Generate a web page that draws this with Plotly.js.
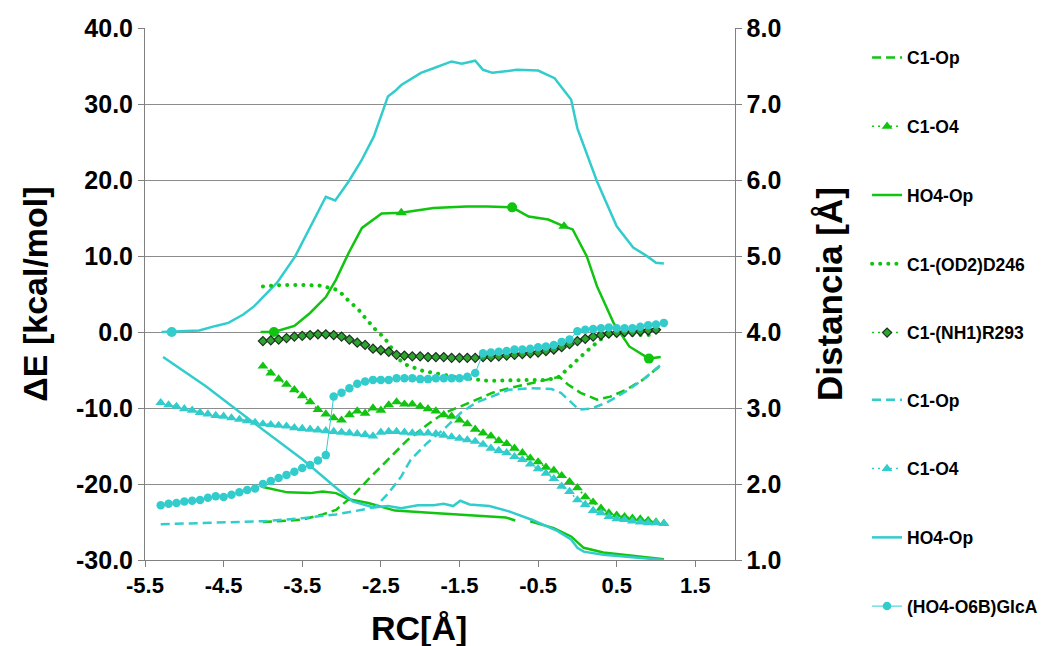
<!DOCTYPE html>
<html><head><meta charset="utf-8">
<script src="https://cdn.plot.ly/plotly-3.0.1.min.js"></script>
<style>body{margin:0;background:#fff}#chart{width:1043px;height:646px}</style>
</head><body><div id="chart"></div>
<script>
// ---------- data ----------
const xTicks = [-5.5,-4.5,-3.5,-2.5,-1.5,-0.5,0.5,1.5];
const xTickText = ['-5.5','-4.5','-3.5','-2.5','-1.5','-0.5','0.5','1.5'];
const yTicks = [-30,-20,-10,0,10,20,30,40];
const yTickText = ['-30.0','-20.0','-10.0','0.0','10.0','20.0','30.0','40.0'];
const y2Ticks = [1,2,3,4,5,6,7,8];
const y2TickText = ['1.0','2.0','3.0','4.0','5.0','6.0','7.0','8.0'];

// RC grids of the sampled series
const rcCyan = [-5.3,-5.2,-5.1,-5.0,-4.9,-4.8,-4.7,-4.6,-4.5,-4.4,-4.3,-4.2,-4.1,-4.0,-3.9,-3.8,-3.7,-3.6,-3.5,-3.4,-3.3,-3.2,-3.1,-3.0,-2.9,-2.8,-2.7,-2.6,-2.5,-2.4,-2.3,-2.2,-2.1,-2.0,-1.9,-1.8,-1.7,-1.6,-1.5,-1.4,-1.3,-1.2,-1.1,-1.0,-0.9,-0.8,-0.7,-0.6,-0.5,-0.4,-0.3,-0.2,-0.1,0.0,0.1,0.2,0.3,0.4,0.5,0.6,0.7,0.8,0.9,1.0,1.1];
const rcGreenO4 = [-4.0,-3.9,-3.8,-3.7,-3.6,-3.5,-3.4,-3.3,-3.2,-3.1,-3.0,-2.9,-2.8,-2.7,-2.6,-2.5,-2.4,-2.3,-2.2,-2.1,-2.0,-1.9,-1.8,-1.7,-1.6,-1.5,-1.4,-1.3,-1.2,-1.1,-1.0,-0.9,-0.8,-0.7,-0.6,-0.5,-0.4,-0.3,-0.2,-0.1,0.0,0.1,0.2,0.3,0.4,0.5,0.6,0.7,0.8,0.9,1.0,1.1];
const rcGreenNH = [-4.0,-3.9,-3.8,-3.7,-3.6,-3.5,-3.4,-3.3,-3.2,-3.1,-3.0,-2.9,-2.8,-2.7,-2.6,-2.5,-2.4,-2.3,-2.2,-2.1,-2.0,-1.9,-1.8,-1.7,-1.6,-1.5,-1.4,-1.3,-1.2,-1.1,-1.0,-0.9,-0.8,-0.7,-0.6,-0.5,-0.4,-0.3,-0.2,-0.1,0.0,0.1,0.2,0.3,0.4,0.5,0.6,0.7,0.8,0.9,1.0];

// distances [Å] (right axis)
const cyanGlcA = [1.72,1.74,1.75,1.77,1.78,1.79,1.82,1.84,1.83,1.86,1.89,1.92,1.94,2.00,2.04,2.08,2.12,2.16,2.21,2.25,2.31,2.38,3.15,3.20,3.26,3.32,3.35,3.37,3.37,3.37,3.39,3.39,3.39,3.38,3.38,3.39,3.39,3.39,3.39,3.41,3.46,3.72,3.73,3.74,3.75,3.77,3.77,3.78,3.80,3.81,3.83,3.87,3.90,4.01,4.03,4.04,4.05,4.06,4.05,4.05,4.05,4.07,4.09,4.10,4.12];
const cyanO4 = [3.07,3.04,3.02,2.99,2.97,2.94,2.92,2.90,2.89,2.87,2.85,2.83,2.81,2.79,2.78,2.77,2.76,2.74,2.73,2.72,2.71,2.70,2.69,2.68,2.67,2.66,2.65,2.63,2.68,2.69,2.69,2.68,2.67,2.67,2.67,2.66,2.64,2.62,2.60,2.58,2.56,2.52,2.47,2.44,2.41,2.36,2.32,2.26,2.20,2.14,2.07,1.97,1.90,1.79,1.73,1.65,1.62,1.57,1.54,1.53,1.51,1.50,1.49,1.49,1.48];
const greenO4 = [3.55,3.46,3.38,3.31,3.24,3.16,3.08,2.98,2.92,2.87,2.84,2.91,2.96,2.93,3.00,2.97,3.04,3.08,3.05,3.05,3.02,2.99,2.96,2.91,2.89,2.84,2.79,2.72,2.67,2.63,2.57,2.53,2.47,2.41,2.34,2.29,2.22,2.18,2.11,2.03,1.95,1.83,1.76,1.68,1.62,1.59,1.57,1.55,1.54,1.52,1.50,1.48];
const greenNH1 = [3.88,3.89,3.90,3.92,3.94,3.95,3.96,3.97,3.97,3.96,3.94,3.90,3.86,3.83,3.78,3.76,3.74,3.70,3.69,3.68,3.68,3.67,3.67,3.67,3.66,3.66,3.66,3.66,3.67,3.67,3.68,3.69,3.70,3.71,3.72,3.73,3.75,3.77,3.80,3.84,3.88,3.91,3.94,3.96,3.98,3.99,4.00,4.00,4.01,4.02,4.03];

const greenOD2X = [-4.0,-3.75,-3.5,-3.28,-3.1,-3.03,-2.95,-2.86,-2.78,-2.71,-2.64,-2.55,-2.47,-2.40,-2.33,-2.28,-2.18,-2.08,-1.97,-1.87,-1.74,-1.62,-1.50,-1.30,-1.16,-1.0,-0.8,-0.6,-0.4,-0.25,-0.17,-0.08,0.01,0.10,0.19,0.29,0.39,0.5,0.75,1.0];
const greenOD2 = [4.60,4.62,4.62,4.61,4.57,4.54,4.45,4.36,4.29,4.20,4.11,4.01,3.94,3.85,3.73,3.65,3.57,3.53,3.49,3.47,3.44,3.42,3.40,3.38,3.36,3.36,3.37,3.37,3.37,3.40,3.47,3.56,3.64,3.73,3.81,3.90,3.95,3.96,3.96,3.96];

const greenOpX = [-4.0,-3.5,-3.24,-3.07,-2.86,-2.66,-2.41,-2.16,-1.91,-1.70,-1.49,-1.29,-1.08,-0.87,-0.66,-0.46,-0.23,-0.12,0.04,0.25,0.42,0.62,0.83,1.05];
const greenOp = [1.50,1.53,1.60,1.66,1.84,2.06,2.32,2.58,2.78,2.93,3.02,3.11,3.20,3.26,3.31,3.35,3.41,3.31,3.20,3.11,3.15,3.24,3.37,3.55];
const cyanOpX = [-5.3,-4.5,-4.0,-3.5,-3.07,-2.74,-2.57,-2.41,-2.24,-2.12,-1.91,-1.70,-1.49,-1.29,-1.08,-0.87,-0.6,-0.33,-0.21,-0.08,0.02,0.17,0.37,0.62,0.83,1.05];
const cyanOp = [1.47,1.50,1.51,1.55,1.60,1.66,1.70,1.87,2.10,2.32,2.54,2.72,2.93,3.07,3.16,3.24,3.26,3.25,3.20,3.07,2.98,2.99,3.07,3.22,3.37,3.56];

const cyanHOX = [-5.27,-4.73,-4.11,-3.49,-3.07,-2.86,-2.59,-2.41,-2.24,-2.03,-1.83,-1.70,-1.58,-1.49,-1.37,-1.12,-0.87,-0.58,-0.25,-0.08,0.0,0.08,0.33,0.75,1.1];
const cyanHO = [3.67,3.29,2.80,2.32,1.95,1.77,1.69,1.71,1.68,1.72,1.72,1.74,1.71,1.78,1.73,1.71,1.64,1.53,1.38,1.27,1.16,1.11,1.07,1.03,1.00];
const greenHOX = [-4.0,-3.69,-3.40,-3.24,-3.07,-2.91,-2.66,-2.32,-1.83,-1.49,-1.08,-0.91,-0.79,-0.7,-0.6,-0.3,-0.08,0.08,0.33,0.75,1.1];
const greenHO = [1.96,1.89,1.88,1.90,1.88,1.80,1.75,1.65,1.62,1.60,1.57,1.56,1.52,null,1.51,1.42,1.31,1.16,1.10,1.05,1.01];

// energies [kcal/mol] (left axis)
const energyCyanX = [-5.29,-4.81,-4.6,-4.44,-4.25,-4.11,-4.03,-3.82,-3.59,-3.4,-3.2,-3.08,-2.91,-2.75,-2.59,-2.41,-2.32,-2.24,-1.99,-1.83,-1.60,-1.47,-1.30,-1.20,-1.08,-0.77,-0.50,-0.29,-0.08,0.0,0.25,0.50,0.71,0.89,1.0,1.10];
const energyCyan = [0.0,0.2,0.8,1.2,2.3,3.4,4.25,6.5,9.95,13.7,17.8,17.3,19.8,22.5,25.7,31.0,31.7,32.5,34.1,34.7,35.6,35.3,35.7,34.5,34.1,34.5,34.4,33.4,30.6,26.8,19.8,13.9,11.1,9.95,9.1,9.0];
const energyGreenX = [-4.03,-3.86,-3.6,-3.40,-3.2,-3.07,-2.91,-2.74,-2.49,-2.24,-1.83,-1.41,-1.14,-0.83,-0.62,-0.37,-0.17,-0.06,0.12,0.25,0.46,0.66,0.91,1.06];
const energyGreen = [0.0,0.0,0.8,2.5,4.6,6.9,10.4,13.7,15.6,15.7,16.3,16.5,16.5,16.4,15.2,14.8,13.9,13.5,9.95,6.0,1.2,-1.9,-3.5,-3.3];
const stationGreenX = [-3.86,-0.83,0.91];
const stationGreen = [0.0,16.4,-3.5];
const stationGreenTriX = [-2.24,-0.17];
const stationGreenTri = [15.7,13.9];
const stationCyanX = [-5.16];
const stationCyan = [0.0];

// ---------- style ----------
const G = '#10c410';
const C = '#33cccc';
const FONT = 'Liberation Sans, Arial, sans-serif';
const dashL = '9px,5px';
const roundDot = '0.1px,8px';

const traces = [
  {x: energyCyanX, y: energyCyan, yaxis: 'y', mode: 'lines', line: {color: C, width: 2.5}, showlegend: false, hoverinfo: 'skip'},
  {x: energyGreenX, y: energyGreen, yaxis: 'y', mode: 'lines', line: {color: G, width: 2.5}, showlegend: false, hoverinfo: 'skip'},
  {x: stationGreenX, y: stationGreen, yaxis: 'y', mode: 'markers', marker: {symbol: 'circle', size: 10, color: G}, showlegend: false},
  {x: stationGreenTriX, y: stationGreenTri, yaxis: 'y', mode: 'markers', marker: {symbol: 'triangle-up', size: 10, color: G}, showlegend: false},
  {x: stationCyanX, y: stationCyan, yaxis: 'y', mode: 'markers', marker: {symbol: 'circle', size: 10, color: C}, showlegend: false},

  {name: 'C1-Op', legend: 'legend', legendgroup: 'a1', x: greenOpX, y: greenOp, yaxis: 'y2', mode: 'lines', line: {color: G, width: 2.5, dash: dashL}},
  {name: 'C1-O4', legend: 'legend', legendgroup: 'a2', x: rcGreenO4, y: greenO4, yaxis: 'y2', mode: 'lines+markers', line: {color: G, width: 1.5, dash: '2px,4px'}, marker: {symbol: 'triangle-up', size: 9.5, color: G}},
  {name: 'HO4-Op', legend: 'legend', legendgroup: 'a3', x: greenHOX, y: greenHO, yaxis: 'y2', mode: 'lines', connectgaps: false, line: {color: G, width: 2.5}},
  {name: 'C1-(OD2)D246', legend: 'legend', legendgroup: 'a4', x: greenOD2X, y: greenOD2, yaxis: 'y2', mode: 'lines', line: {color: G, width: 4, dash: roundDot}},
  {name: 'C1-(NH1)R293', legend: 'legend', legendgroup: 'a5', x: rcGreenNH, y: greenNH1, yaxis: 'y2', mode: 'lines+markers', line: {color: G, width: 1.5, dash: '2px,4px'}, marker: {symbol: 'diamond', size: 7, color: '#2fa42f', line: {color: '#1b3320', width: 1.2}}},
  {name: 'C1-Op', legend: 'legend2', legendgroup: 'a6', x: cyanOpX, y: cyanOp, yaxis: 'y2', mode: 'lines', line: {color: C, width: 2.5, dash: dashL}},
  {name: 'C1-O4', legend: 'legend2', legendgroup: 'a7', x: rcCyan, y: cyanO4, yaxis: 'y2', mode: 'lines+markers', line: {color: C, width: 1.5, dash: '2px,4px'}, marker: {symbol: 'triangle-up', size: 9.5, color: C}},
  {name: 'HO4-Op', legend: 'legend2', legendgroup: 'a8', x: cyanHOX, y: cyanHO, yaxis: 'y2', mode: 'lines', line: {color: C, width: 2.5}},
  {name: '(HO4-O6B)GlcA', legend: 'legend2', legendgroup: 'a9', x: rcCyan, y: cyanGlcA, yaxis: 'y2', mode: 'lines+markers', line: {color: C, width: 1}, marker: {symbol: 'circle', size: 8.5, color: C}}
];

const yTickFont = {family: FONT, size: 25, color: '#000', weight: 'bold'};
const xTickFont = {family: FONT, size: 22, color: '#000', weight: 'bold'};
const legendFont = {family: FONT, size: 17.5, weight: 'bold', color: '#000'};
// plot spans 145..746 px of a 145..1043 paper
const xDomainEnd = 601 / 898;
const layout = {
  width: 1043, height: 646,
  margin: {l: 145, r: 0, t: 28, b: 86, pad: 0},
  paper_bgcolor: '#fff', plot_bgcolor: '#fff',
  font: {family: FONT, color: '#000'},
  showlegend: true,
  xaxis: {
    domain: [0, xDomainEnd],
    range: [-5.5, 2.0], tickvals: xTicks, ticktext: xTickText,
    showgrid: false, zeroline: false, showline: true, linecolor: '#808080', linewidth: 1,
    ticks: 'outside', ticklen: 6, tickcolor: '#808080', tickfont: xTickFont
  },
  yaxis: {
    range: [-30, 40], tickvals: yTicks, ticktext: yTickText,
    showgrid: true, gridcolor: '#8c8c8c', gridwidth: 1, zeroline: false,
    showline: true, linecolor: '#808080', linewidth: 1,
    ticks: 'outside', ticklen: 6, tickcolor: '#808080', tickfont: yTickFont,
    title: {text: 'ΔE [kcal/mol]', font: {family: FONT, size: 34, weight: 'bold', color: '#000'}, standoff: 18}
  },
  yaxis2: {
    range: [1, 8], tickvals: y2Ticks, ticktext: y2TickText, overlaying: 'y', side: 'right', anchor: 'x',
    showgrid: false, zeroline: false, showline: true, linecolor: '#808080', linewidth: 1,
    ticks: 'outside', ticklen: 6, tickcolor: '#808080', tickfont: yTickFont,
    title: {text: 'Distancia [Å]', font: {family: FONT, size: 35, weight: 'bold', color: '#000'}, standoff: 37}
  },
  legend: {
    x: 0.8196, xanchor: 'left', y: 0.978, yanchor: 'top',
    traceorder: 'grouped', tracegroupgap: 43, itemwidth: 30,
    font: legendFont, bgcolor: 'rgba(0,0,0,0)'
  },
  legend2: {
    x: 0.8196, xanchor: 'left', y: 0.3346, yanchor: 'top',
    traceorder: 'grouped', tracegroupgap: 43, itemwidth: 30,
    font: legendFont, bgcolor: 'rgba(0,0,0,0)'
  },
  annotations: [{
    text: 'RC[Å]', xref: 'paper', yref: 'paper', x: (424 - 145) / 898, y: 0, yshift: -68,
    xanchor: 'center', yanchor: 'middle', showarrow: false,
    font: {family: FONT, size: 34, weight: 'bold', color: '#000'}
  }]
};

Plotly.newPlot('chart', traces, layout, {displayModeBar: false, staticPlot: true}).then(function () {
  // round dots for the dotted C1-(OD2)D246 line
  document.querySelectorAll('path.js-line').forEach(function (p) {
    var d = (p.style.strokeDasharray || '').replace(/\s/g, '');
    if (d.indexOf('0.1px,8px') === 0) p.style.strokeLinecap = 'round';
  });
});
</script></body></html>
